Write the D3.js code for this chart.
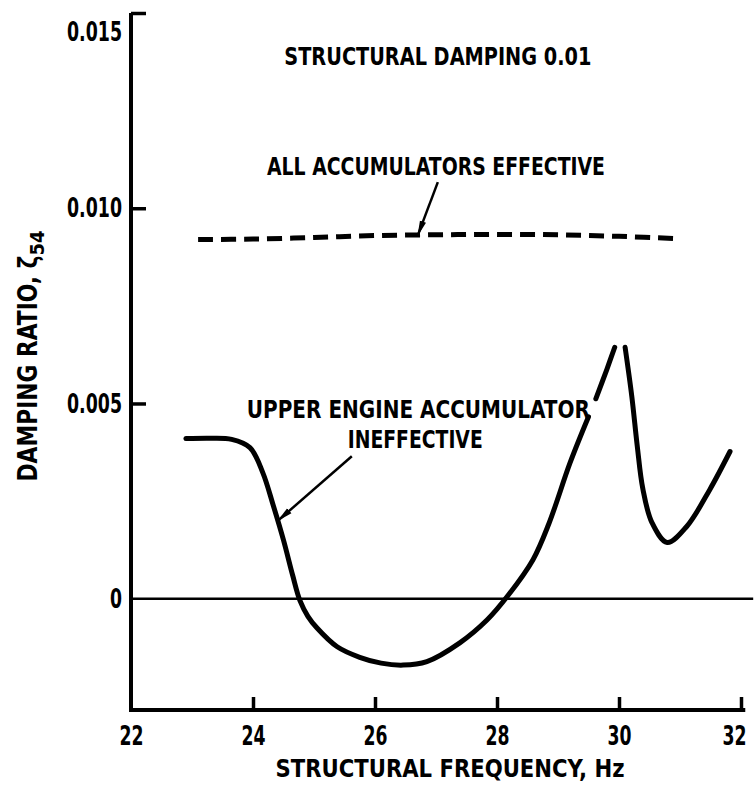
<!DOCTYPE html>
<html>
<head>
<meta charset="utf-8">
<script src="https://cdn.jsdelivr.net/npm/d3@7"></script>
<style>
  html, body { margin: 0; padding: 0; background: #fff; }
  svg { display: block; }
  text { font-family: "DejaVu Sans", "Liberation Sans", sans-serif; font-stretch: condensed; font-weight: bold; fill: #000; }
</style>
</head>
<body>
<svg id="chart" width="754" height="785"></svg>
<script>
// Structural frequency (Hz) vs damping ratio for the two accumulator cases
const xTicks = [22, 24, 26, 28, 30, 32];
const yTicks = [0, 0.005, 0.010, 0.015];
const yTickLabels = ["0", "0.005", "0.010", "0.015"];

// All accumulators effective (dashed)
const allEffFreq = [23.1, 24.0, 25.0, 26.0, 27.0, 28.0, 29.0, 30.0, 31.0];
const allEffDamp = [0.00920, 0.00921, 0.00925, 0.00930, 0.00932, 0.00933, 0.00932, 0.00928, 0.00922];

// Upper engine accumulator ineffective (solid), first branch (null = pen lift)
const upperFreqA = [22.9, 23.3, 23.65, 23.95, 24.16, 24.33, 24.50, 24.65, 24.77, 24.90, 25.05, 25.38, 25.75, 26.1, 26.46, 26.85, 27.39, 27.84, 28.18, 28.59, 28.85, 29.2, 29.5, 29.56, 29.62, 29.8, 29.93];
const upperDampA = [0.00410, 0.00411, 0.00408, 0.00387, 0.00323, 0.00240, 0.00150, 0.00060, -0.00005, -0.00045, -0.00075, -0.00123, -0.00150, -0.00165, -0.00170, -0.00161, -0.00113, -0.00054, 0.00008, 0.00100, 0.00192, 0.00349, 0.00466, null, 0.00512, 0.00587, 0.00644];
// second branch after the resonance
const upperFreqB = [30.1, 30.21, 30.3, 30.39, 30.54, 30.79, 31.11, 31.49, 31.82];
const upperDampB = [0.00644, 0.00518, 0.00390, 0.00282, 0.00195, 0.00144, 0.00185, 0.00280, 0.00377];

const svg = d3.select("#chart");
const x = d3.scaleLinear().domain([22, 32]).range([131, 741]);
const y = d3.scaleLinear().domain([-0.00285, 0.015]).range([710, 13]);

// zero reference line
svg.append("line")
  .attr("x1", x(22)).attr("x2", x(32.2))
  .attr("y1", y(0)).attr("y2", y(0))
  .attr("stroke", "#000").attr("stroke-width", 2.5);

// axes
const yAxis = d3.axisLeft(y)
  .tickValues(yTicks)
  .tickFormat((d) => yTickLabels[yTicks.indexOf(d)])
  .tickSize(-15).tickPadding(9);
const yG = svg.append("g").attr("transform", `translate(${x(22)},0)`).call(yAxis);
yG.selectAll(".tick").filter(d => d === 0).select("line").remove();
// the top label hangs just below its tick
yG.selectAll(".tick").filter(d => d === 0.015).select("text").attr("dy", "1.0em");

const xAxis = d3.axisBottom(x).tickValues(xTicks).tickFormat(d3.format("d"))
  .tickSize(-13).tickPadding(16);
const xG = svg.append("g").attr("transform", `translate(0,${y.range()[0]})`).call(xAxis);
xG.selectAll(".tick").filter(d => d === 22).select("line").remove();
// last label tucked in against the right edge
xG.selectAll(".tick").filter(d => d === 32).select("text").attr("dx", -7);

[yG, xG].forEach(g => {
  g.select(".domain").remove();
  g.selectAll(".tick line").attr("stroke", "#000").attr("stroke-width", 3.5);
  g.selectAll("text").attr("font-size", 27).attr("fill", "#000")
    .style("font-family", "'DejaVu Sans', sans-serif")
    .style("font-stretch", "condensed")
    .style("font-weight", "bold")
    .attr("lengthAdjust", "spacingAndGlyphs");
});
yG.selectAll(".tick text").attr("textLength", d => d === 0 ? 12 : 55);
xG.selectAll(".tick text").attr("textLength", 24);

// axis spines
svg.append("path")
  .attr("d", d3.line()([[x(22), y(0.015)], [x(22), y.range()[0]], [x(32.07), y.range()[0]]]))
  .attr("fill", "none").attr("stroke", "#000").attr("stroke-width", 4)
  .attr("stroke-linejoin", "miter");

// curves
const line = d3.line()
  .defined(d => d[1] !== null)
  .x(d => x(d[0])).y(d => y(d[1]))
  .curve(d3.curveCatmullRom.alpha(0.5));

svg.append("path")
  .datum(allEffFreq.map((f, i) => [f, allEffDamp[i]]))
  .attr("d", line)
  .attr("fill", "none").attr("stroke", "#000").attr("stroke-width", 5)
  .attr("stroke-dasharray", "15 8");

svg.append("path")
  .datum(upperFreqA.map((f, i) => [f, upperDampA[i]]))
  .attr("d", line)
  .attr("fill", "none").attr("stroke", "#000").attr("stroke-width", 5)
  .attr("stroke-linecap", "round").attr("stroke-linejoin", "round");

svg.append("path")
  .datum(upperFreqB.map((f, i) => [f, upperDampB[i]]))
  .attr("d", line)
  .attr("fill", "none").attr("stroke", "#000").attr("stroke-width", 5)
  .attr("stroke-linecap", "round").attr("stroke-linejoin", "round");

// annotation arrows
svg.append("defs").append("marker")
  .attr("id", "head").attr("viewBox", "0 0 16 8")
  .attr("refX", 15).attr("refY", 4)
  .attr("markerWidth", 16).attr("markerHeight", 8)
  .attr("markerUnits", "userSpaceOnUse")
  .attr("orient", "auto")
  .append("path").attr("d", "M0,0.8 L16,4 L0,7.2 Z").attr("fill", "#000");

const arrows = [
  { from: [27.03, 0.01067], to: [26.70, 0.00930] },
  { from: [25.62, 0.00365], to: [24.41, 0.00200] }
];
svg.selectAll("line.arrow").data(arrows).join("line")
  .attr("class", "arrow")
  .attr("x1", d => x(d.from[0])).attr("y1", d => y(d.from[1]))
  .attr("x2", d => x(d.to[0])).attr("y2", d => y(d.to[1]))
  .attr("stroke", "#000").attr("stroke-width", 2.5)
  .attr("marker-end", "url(#head)");

// text labels (centre frequency, baseline damping, drawn width)
const labels = [
  { t: "STRUCTURAL DAMPING 0.01", fx: 27.03, dy: 0.01366, w: 307 },
  { t: "ALL ACCUMULATORS EFFECTIVE", fx: 27.00, dy: 0.01085, w: 338 },
  { t: "UPPER ENGINE ACCUMULATOR", fx: 26.71, dy: 0.00463, w: 343 },
  { t: "INEFFECTIVE", fx: 26.66, dy: 0.00386, w: 135 }
];
svg.selectAll("text.note").data(labels).join("text")
  .attr("class", "note")
  .attr("x", d => x(d.fx)).attr("y", d => y(d.dy))
  .attr("text-anchor", "middle").attr("font-size", 25)
  .attr("textLength", d => d.w).attr("lengthAdjust", "spacingAndGlyphs")
  .text(d => d.t);

svg.append("text")
  .attr("x", 450).attr("y", 777)
  .attr("text-anchor", "middle").attr("font-size", 25)
  .attr("textLength", 349).attr("lengthAdjust", "spacingAndGlyphs")
  .text("STRUCTURAL FREQUENCY, Hz");

const yl = svg.append("text")
  .attr("transform", "translate(37,356) rotate(-90)")
  .attr("text-anchor", "middle").attr("font-size", 26);
yl.append("tspan").attr("textLength", 226).attr("lengthAdjust", "spacingAndGlyphs")
  .text("DAMPING RATIO, ζ");
yl.append("tspan").attr("dy", 7).attr("font-size", 20).text("54");
</script>
</body>
</html>
